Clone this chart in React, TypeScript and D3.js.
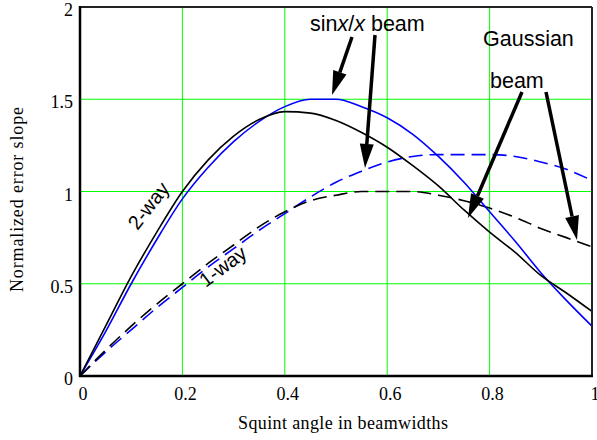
import React from "react";
import * as d3 from "d3";

const xs = [0, 0.05, 0.1, 0.15, 0.2, 0.25, 0.3, 0.35, 0.4, 0.45, 0.5, 0.55, 0.6, 0.65, 0.7, 0.75, 0.8, 0.85, 0.9, 0.95, 1.0];
const gauss2way = [0, 0.27, 0.54, 0.78, 1.0, 1.17, 1.3, 1.39, 1.433, 1.425, 1.385, 1.32, 1.24, 1.14, 1.03, 0.9, 0.78, 0.67, 0.545, 0.45, 0.35];
const sinc2way = [0, 0.24, 0.5, 0.74, 0.96, 1.13, 1.27, 1.38, 1.46, 1.5, 1.5, 1.46, 1.4, 1.31, 1.19, 1.05, 0.89, 0.73, 0.56, 0.41, 0.27];
const gauss1way = [0, 0.14, 0.27, 0.39, 0.5, 0.61, 0.71, 0.81, 0.89, 0.95, 0.98, 1.0, 1.0, 1.0, 0.98, 0.95, 0.91, 0.86, 0.8, 0.75, 0.7];
const sinc1way = [0, 0.13, 0.25, 0.37, 0.48, 0.59, 0.69, 0.79, 0.88, 0.97, 1.05, 1.11, 1.16, 1.19, 1.2, 1.2, 1.2, 1.19, 1.16, 1.12, 1.06];
const xTicks = [0, 0.2, 0.4, 0.6, 0.8, 1];
const yTicks = [0, 0.5, 1, 1.5, 2];
const xTickLabels = ["0", "0.2", "0.4", "0.6", "0.8", "1"];
const yTickLabels = ["0", "0.5", "1", "1.5", "2"];

const W = 597, H = 440;
const L = 80, R = 592, T = 7, B = 376;
const SERIF = "Liberation Serif, Times New Roman, serif";
const SANS = "Liberation Sans, Arial, sans-serif";

export default function App() {
  const x = d3.scaleLinear().domain([0, 1]).range([L, R]);
  const y = d3.scaleLinear().domain([0, 2]).range([B, T]);
  const line = (vals: number[]) =>
    d3.line<number>().x((_, i) => x(xs[i])).y((v) => y(v)).curve(d3.curveMonotoneX)(vals) || "";

  const arrows = [
    { x1: 352, y1: 37, x2: 332, y2: 95 },
    { x1: 375, y1: 35, x2: 365, y2: 168 },
    { x1: 522, y1: 92, x2: 468, y2: 218 },
    { x1: 546, y1: 92, x2: 577, y2: 240 },
  ];

  const arrowPath = (a: { x1: number; y1: number; x2: number; y2: number }) => {
    const dx = a.x2 - a.x1, dy = a.y2 - a.y1;
    const len = Math.hypot(dx, dy);
    const ux = dx / len, uy = dy / len;
    const hl = 24, hw = 7;
    const bx = a.x2 - ux * hl, by = a.y2 - uy * hl;
    const px = -uy, py = ux;
    return {
      shaft: { x1: a.x1, y1: a.y1, x2: bx, y2: by },
      head: `M${a.x2},${a.y2} L${bx + px * hw},${by + py * hw} L${bx - px * hw},${by - py * hw} Z`,
    };
  };

  return (
    <svg width={W} height={H} style={{ position: "absolute", left: 0, top: 0, background: "#fff" }}>
      {xTicks.slice(1, -1).map((t) => (
        <line key={"gx" + t} x1={x(t)} x2={x(t)} y1={T} y2={B} stroke="#00ff00" strokeWidth={1} />
      ))}
      {yTicks.slice(1, -1).map((t) => (
        <line key={"gy" + t} x1={L} x2={R} y1={y(t)} y2={y(t)} stroke="#00ff00" strokeWidth={1} />
      ))}
      <path d={line(sinc1way)} fill="none" stroke="#0000ff" strokeWidth={1.6} strokeDasharray="14,7" />
      <path d={line(gauss1way)} fill="none" stroke="#000" strokeWidth={1.6} strokeDasharray="14,7" />
      <path d={line(sinc2way)} fill="none" stroke="#0000ff" strokeWidth={1.6} />
      <path d={line(gauss2way)} fill="none" stroke="#000" strokeWidth={1.6} />
      <line x1={L} x2={R} y1={T} y2={T} stroke="#222" strokeWidth={2} />
      <line x1={R} x2={R} y1={T} y2={B} stroke="#222" strokeWidth={2} />
      <line x1={L} x2={L} y1={T - 1} y2={B + 1} stroke="#000" strokeWidth={2.5} />
      <line x1={L - 1} x2={R + 1} y1={B} y2={B} stroke="#000" strokeWidth={2.5} />
      {xTicks.map((t, i) => (
        <text key={"xt" + t} x={x(t) + 3} y={400} textAnchor="middle" fontFamily={SERIF} fontSize={18}>
          {xTickLabels[i]}
        </text>
      ))}
      {yTicks.map((t, i) => (
        <text key={"yt" + t} x={73} y={y(t) + 9} textAnchor="end" fontFamily={SERIF} fontSize={18}>
          {yTickLabels[i]}
        </text>
      ))}
      <text x={238} y={429} fontFamily={SERIF} fontSize={18} textLength={210} lengthAdjust="spacing">
        Squint angle in beamwidths
      </text>
      <text transform="translate(23,292) rotate(-90)" fontFamily={SERIF} fontSize={18} textLength={185} lengthAdjust="spacing">
        Normalized error slope
      </text>
      <text x={310} y={31} fontFamily={SANS} fontSize={21.5}>
        sin<tspan fontStyle="italic">x</tspan>/<tspan fontStyle="italic">x</tspan> beam
      </text>
      <text x={483} y={46} fontFamily={SANS} fontSize={21.5}>Gaussian</text>
      <text x={490} y={88} fontFamily={SANS} fontSize={21.5}>beam</text>
      <text transform="translate(154,210) rotate(-52)" textAnchor="middle" fontFamily={SANS} fontSize={20}>2-way</text>
      <text transform="translate(227,272) rotate(-37)" textAnchor="middle" fontFamily={SANS} fontSize={20}>1-way</text>
      {arrows.map((a, i) => {
        const p = arrowPath(a);
        return (
          <g key={"ar" + i}>
            <line {...p.shaft} stroke="#000" strokeWidth={3.5} />
            <path d={p.head} fill="#000" />
          </g>
        );
      })}
    </svg>
  );
}
